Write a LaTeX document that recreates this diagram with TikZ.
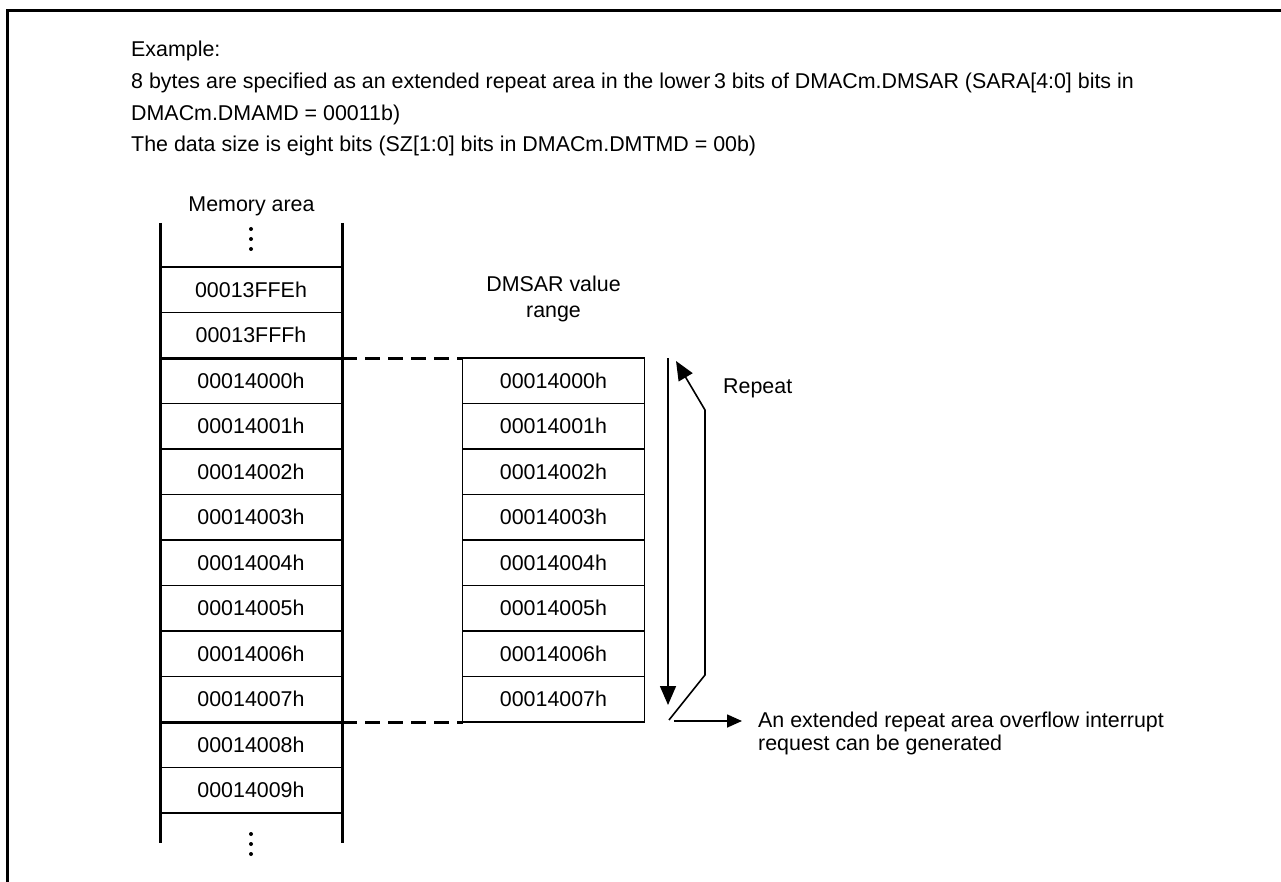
\documentclass[tikz,border=0pt]{standalone}
\usepackage{fontspec}
\setmainfont{Liberation Sans}
\usetikzlibrary{arrows.meta, positioning}

\begin{document}
\begin{tikzpicture}[
    x=1pt, y=-1pt,
    every node/.style={font=\fontsize{21.4}{25}\selectfont, inner sep=0pt},
    cell/.style={draw, line width=1.8pt, outer sep=0pt, minimum width=182pt, minimum height=45.5pt},
    edge/.style={line width=3pt},
    arrow/.style={-{Triangle[length=19pt, width=16pt]}, line width=1.6pt},
]
    \useasboundingbox (0,0) rectangle (1281,882);
    \draw[line width=3pt] (7,882) |- (1281,11);

    % header text
    \node[anchor=base west] (ex) at (131,57) {Example:};
    \node[anchor=base west] (exa) at (131,89) {8 bytes are specified as an extended repeat area in the lower\,3 bits of DMACm.DMSAR (SARA[4:0] bits in};
    \node[anchor=base west] (exb) at (131,120.5) {DMACm.DMAMD = 00011b)};
    \node[anchor=base west] (exc) at (131,152) {The data size is eight bits (SZ[1:0] bits in DMACm.DMTMD = 00b)};

    % memory area
    \node[anchor=base] (memhead) at (251.5,212) {Memory area};
    \foreach \addr [count=\i from 0] in {00013FFEh,00013FFFh,00014000h,00014001h,00014002h,00014003h,00014004h,00014005h,00014006h,00014007h,00014008h,00014009h}
        \node[cell] (mem\i) at (251,{289.75+45.5*\i}) {\addr};
    \coordinate (memtop) at (251,223);
    \coordinate (membot) at (251,843);
    \draw[edge] (mem0.west |- memtop) -- (mem11.west |- membot);
    \draw[edge] (mem0.east |- memtop) -- (mem11.east |- membot);
    \draw[edge] (mem2.north west) -- (mem2.north east);
    \draw[edge] (mem9.south west) -- (mem9.south east);
    \foreach \y in {229,239,249,834,844,854}
        \fill (251,\y) circle (2pt);

    % DMSAR value range
    \node[anchor=base] (rnghead) at (553.5,292) {DMSAR value};
    \node[anchor=base] (rngheadb) at (553.5,317) {range};
    \foreach \addr [count=\i from 0] in {00014000h,00014001h,00014002h,00014003h,00014004h,00014005h,00014006h,00014007h}
        \node[cell] (rng\i) at (553.5,{380.75+45.5*\i}) {\addr};
    \draw[edge, dash pattern=on 15pt off 8pt] (mem2.north east) -- (rng0.north west);
    \draw[edge, dash pattern=on 15pt off 8pt] (mem9.south east) -- (rng7.south west);

    % repeat arrows
    \coordinate (downtop) at (668,358);
    \coordinate (downtip) at (668,705);
    \coordinate (loopstart) at (669,720);
    \coordinate (looptip) at (676,361);
    \draw[arrow] (downtop) -- (downtip);
    \draw[arrow] (loopstart) -- ++(36,-45) -- ++(0,-265) -- (looptip);
    \node[anchor=base west] (repeat) at (723,393) {Repeat};

    \node[anchor=base west] (overflow) at (758,727) {An extended repeat area overflow interrupt};
    \node[anchor=base west] (overflowb) at (758,750) {request can be generated};
    \coordinate (ovstart) at (674,721);
    \draw[-{Triangle[length=15pt, width=13pt]}, line width=1.6pt, shorten >=16pt] (ovstart) -- (ovstart -| overflow.west);
\end{tikzpicture}
\end{document}
